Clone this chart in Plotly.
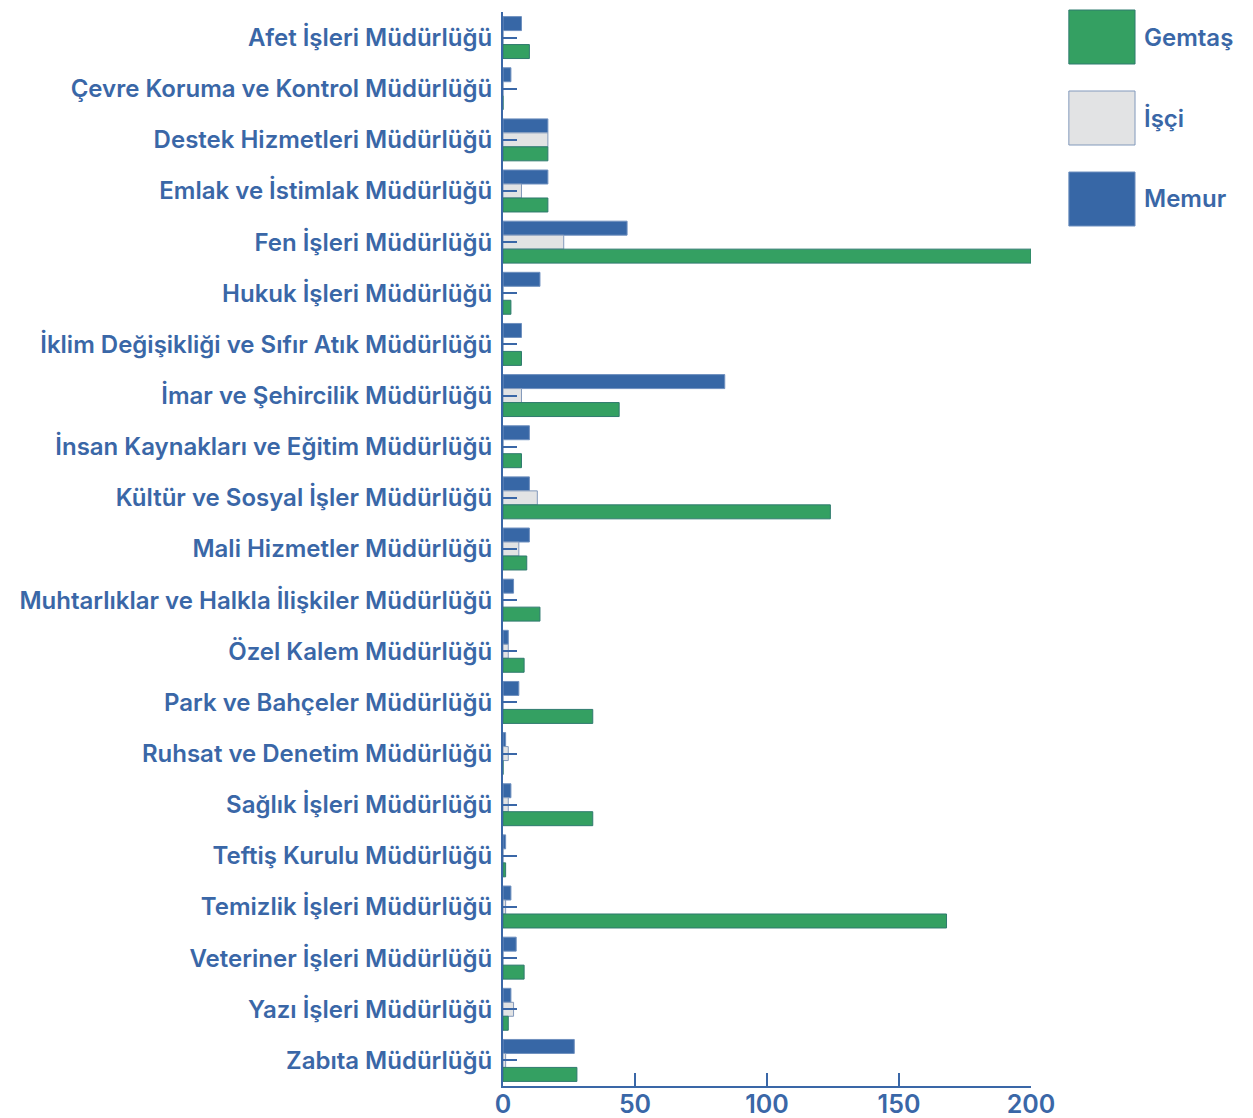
import plotly.graph_objects as go

# Directorates (top to bottom)
departments = [
    "Afet İşleri Müdürlüğü",
    "Çevre Koruma ve Kontrol Müdürlüğü",
    "Destek Hizmetleri Müdürlüğü",
    "Emlak ve İstimlak Müdürlüğü",
    "Fen İşleri Müdürlüğü",
    "Hukuk İşleri Müdürlüğü",
    "İklim Değişikliği ve Sıfır Atık Müdürlüğü",
    "İmar ve Şehircilik Müdürlüğü",
    "İnsan Kaynakları ve Eğitim Müdürlüğü",
    "Kültür ve Sosyal İşler Müdürlüğü",
    "Mali Hizmetler Müdürlüğü",
    "Muhtarlıklar ve Halkla İlişkiler Müdürlüğü",
    "Özel Kalem Müdürlüğü",
    "Park ve Bahçeler Müdürlüğü",
    "Ruhsat ve Denetim Müdürlüğü",
    "Sağlık İşleri Müdürlüğü",
    "Teftiş Kurulu Müdürlüğü",
    "Temizlik İşleri Müdürlüğü",
    "Veteriner İşleri Müdürlüğü",
    "Yazı İşleri Müdürlüğü",
    "Zabıta Müdürlüğü",
]

# Staff counts per directorate
gemtas = [10, 0, 17, 17, 200, 3, 7, 44, 7, 124, 9, 14, 8, 34, 0, 34, 1, 168, 8, 2, 28]
isci = [0, 0, 17, 7, 23, 0, 0, 7, 0, 13, 6, 0, 2, 0, 2, 2, 0, 1, 0, 4, 1]
memur = [7, 3, 17, 17, 47, 14, 7, 84, 10, 10, 10, 4, 2, 6, 1, 3, 1, 3, 5, 3, 27]

x_ticks = [0, 50, 100, 150, 200]

series_names = ["Gemtaş", "İşçi", "Memur"]
series_values = [gemtas, isci, memur]
fill_colors = ["#34a062", "#e2e3e4", "#3767a6"]
edge_colors = ["#2f7a6e", "#8299bb", "#6f90bf"]

TEXT = "#3a67a7"
FONT = "Inter"
PLOT_H = 1118 - 12 - 32

fig = go.Figure()
# Memur drawn first so it sits on top of each group (reversed category axis)
for name, vals, fc, ec in reversed(list(zip(series_names, series_values, fill_colors, edge_colors))):
    fig.add_trace(go.Bar(
        y=departments, x=vals, name=name, orientation="h",
        marker=dict(color=fc, line=dict(color=ec, width=1)),
        showlegend=False,
    ))

# Legend drawn as large swatches with labels on the right side
for i, (name, fc, ec) in enumerate(zip(series_names, fill_colors, edge_colors)):
    top_px = 10 + i * 81          # distance from top of page
    y1 = (1118 - 32 - top_px) / PLOT_H
    y0 = (1118 - 32 - top_px - 54) / PLOT_H
    fig.add_shape(type="rect", xref="paper", yref="paper",
                  x0=1.0717, x1=1.197, y0=y0, y1=y1,
                  fillcolor=fc, line=dict(color=ec, width=1))
    fig.add_annotation(xref="paper", yref="paper", x=1.21, y=(y0 + y1) / 2,
                       text=name, showarrow=False, xanchor="left", yanchor="middle",
                       font=dict(family=FONT, size=24, color=TEXT, weight=600))

fig.update_layout(
    width=1253, height=1118,
    margin=dict(l=503, r=222, t=12, b=32, autoexpand=False),
    barmode="group", bargap=0.18, bargroupgap=0.0,
    plot_bgcolor="white", paper_bgcolor="white",
    font=dict(family=FONT, color=TEXT),
)
fig.update_yaxes(
    autorange="reversed", showgrid=False, automargin=False,
    showline=True, linecolor=TEXT, linewidth=2,
    ticks="inside", ticklen=14, tickwidth=2, tickcolor=TEXT,
    tickfont=dict(family=FONT, size=24, color=TEXT, weight=600),
    ticklabelstandoff=4,
)
fig.update_xaxes(
    range=[0, 200], tickvals=x_ticks, showgrid=False, zeroline=False, automargin=False,
    showline=True, linecolor=TEXT, linewidth=2,
    ticks="inside", ticklen=13, tickwidth=2, tickcolor=TEXT,
    tickfont=dict(family=FONT, size=25, color=TEXT, weight=600),
    ticklabelstandoff=-5,
)

fig.write_html("out.html")
